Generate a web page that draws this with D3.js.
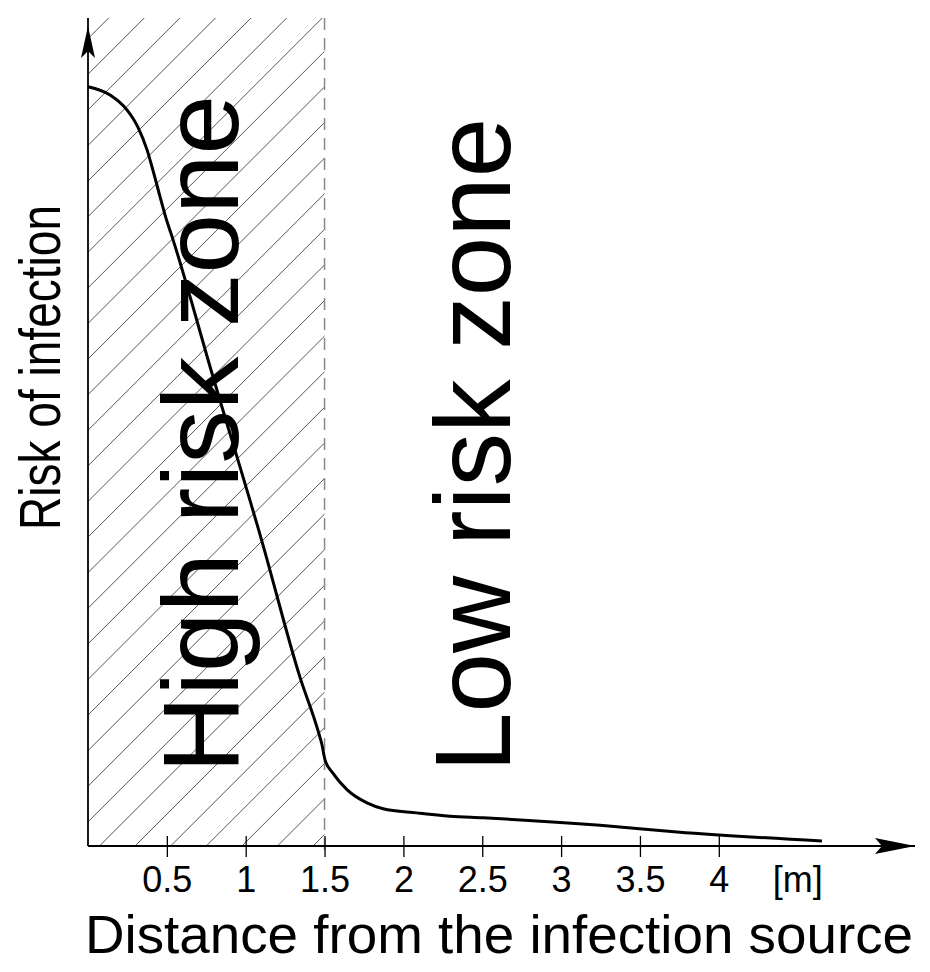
<!DOCTYPE html>
<html>
<head>
<meta charset="utf-8">
<script src="https://cdn.jsdelivr.net/npm/d3@7"></script>
<style>
html,body{margin:0;padding:0;background:#fff;}
svg{display:block;}
text{font-family:"Liberation Sans",Arial,Helvetica,sans-serif;fill:#000;}
</style>
</head>
<body>
<svg id="chart" width="930" height="972"></svg>
<script>
// ---- data ----
const distance = [0, 0.14, 0.247, 0.317, 0.374, 0.412, 0.457, 0.495, 0.533, 0.786, 1.103, 1.344, 1.459, 1.484, 1.503, 1.553, 1.642, 1.769, 1.871, 2.086, 2.295, 2.505, 3.247, 3.735, 4.654];
const risk     = [0.917, 0.907, 0.889, 0.868, 0.841, 0.816, 0.784, 0.758, 0.736, 0.571, 0.368, 0.204, 0.139, 0.122, 0.104, 0.088, 0.068, 0.052, 0.045, 0.040, 0.036, 0.034, 0.025, 0.017, 0.006];
const xTicks = [0.5, 1, 1.5, 2, 2.5, 3, 3.5, 4];
const xTickLabels = ["0.5", "1", "1.5", "2", "2.5", "3", "3.5", "4"];
const unitLabel = "[m]";
const unitPosition = 4.5;
const highRiskLimit = 1.5;
const zoneLabels = ["High risk zone", "Low risk zone"];
const xTitle = "Distance from the infection source";
const yTitle = "Risk of infection";

// ---- layout ----
const svg = d3.select("#chart");
const x = d3.scaleLinear().domain([0, 5]).range([88, 88 + 5 * 157.7]);
const y = d3.scaleLinear().domain([0, 1]).range([846, 18]);
const x0 = x(0), yBase = y(0), yTop = y(1);

// hatched high-risk zone
const defs = svg.append("defs");
defs.append("clipPath").attr("id", "hz")
  .append("rect")
  .attr("x", x0).attr("y", yTop)
  .attr("width", x(highRiskLimit) - x0).attr("height", yBase - yTop);

const hatch = svg.append("g").attr("clip-path", "url(#hz)");
const spacing = 35.6;
const startB = x(highRiskLimit) - 11.5;
const h = yBase - yTop;
for (let k = 0; k < 40; k++) {
  const b = startB - k * spacing;
  hatch.append("line")
    .attr("x1", b).attr("y1", yBase)
    .attr("x2", b + h).attr("y2", yTop)
    .attr("stroke", "#555").attr("stroke-width", 1);
}

// dashed boundary
svg.append("line")
  .attr("x1", x(highRiskLimit)).attr("x2", x(highRiskLimit))
  .attr("y1", yTop).attr("y2", yBase + 11)
  .attr("stroke", "#888").attr("stroke-width", 1.5)
  .attr("stroke-dasharray", "12,8");

// zone labels
svg.append("text")
  .attr("transform", `translate(238,773) rotate(-90)`)
  .attr("font-size", 107)
  .text(zoneLabels[0]);
svg.append("text")
  .attr("transform", `translate(510,772) rotate(-90)`)
  .attr("font-size", 107)
  .text(zoneLabels[1]);

// x axis ticks
const ax = svg.append("g").attr("transform", `translate(0,${yBase})`)
  .call(d3.axisBottom(x).tickValues(xTicks).tickFormat((d, i) => xTickLabels[i]).tickSizeOuter(0));
ax.select(".domain").remove();
ax.selectAll(".tick line").attr("y1", -10).attr("y2", 11).attr("stroke", "#000").attr("stroke-width", 1.3);
ax.selectAll(".tick text")
  .attr("y", 46).attr("dy", 0)
  .attr("font-size", 36)
  .attr("font-family", '"Liberation Sans",Arial,sans-serif')
  .attr("fill", "#000");
svg.append("text")
  .attr("x", x(unitPosition)).attr("y", yBase + 46)
  .attr("text-anchor", "middle").attr("font-size", 36)
  .text(unitLabel);

// axes lines with arrows
svg.append("line").attr("x1", x0).attr("y1", yBase).attr("x2", 915).attr("y2", yBase)
  .attr("stroke", "#000").attr("stroke-width", 1.8);
svg.append("line").attr("x1", x0).attr("y1", yBase).attr("x2", x0).attr("y2", yTop)
  .attr("stroke", "#000").attr("stroke-width", 1.8);
svg.append("path")
  .attr("d", `M915,${yBase} L875,${yBase - 8} L882,${yBase} L875,${yBase + 8} Z`)
  .attr("fill", "#000");
svg.append("path")
  .attr("d", `M${x0},26 L${x0 - 7},58 L${x0},51 L${x0 + 7},58 Z`)
  .attr("fill", "#000");

// curve
const pts = distance.map((d, i) => [d, risk[i]]);
svg.append("path")
  .datum(pts)
  .attr("fill", "none")
  .attr("stroke", "#000")
  .attr("stroke-width", 3)
  .attr("stroke-linejoin", "round")
  .attr("d", d3.line().x(d => x(d[0])).y(d => y(d[1])).curve(d3.curveMonotoneX));

// axis titles
svg.append("text")
  .attr("x", 85).attr("y", 953)
  .attr("font-size", 54)
  .attr("textLength", 828).attr("lengthAdjust", "spacingAndGlyphs")
  .text(xTitle);
svg.append("text")
  .attr("transform", `translate(60,530) rotate(-90)`)
  .attr("font-size", 58)
  .attr("textLength", 325).attr("lengthAdjust", "spacingAndGlyphs")
  .text(yTitle);
</script>
</body>
</html>
